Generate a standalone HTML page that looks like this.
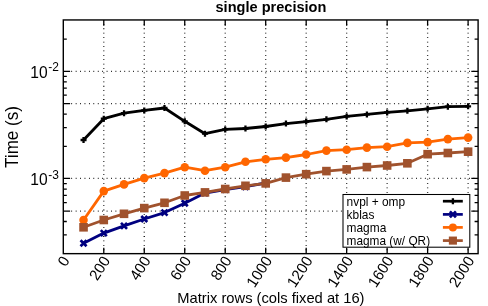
<!DOCTYPE html>
<html><head><meta charset="utf-8"><title>chart</title><style>html,body{margin:0;padding:0;background:#fff}body{width:488px;height:306px;overflow:hidden}svg{will-change:transform}svg text{font-family:"Liberation Sans",sans-serif}</style></head><body>
<svg width="488" height="306" viewBox="0 0 488 306" style="display:block">
<rect width="488" height="306" fill="#fff"/>
<line x1="103.78" y1="23.95" x2="103.78" y2="253.65" stroke="#000" stroke-width="1.3" stroke-dasharray="0.8 3.62" fill="none"/>
<line x1="144.26" y1="23.95" x2="144.26" y2="253.65" stroke="#000" stroke-width="1.3" stroke-dasharray="0.8 3.62" fill="none"/>
<line x1="184.74" y1="23.95" x2="184.74" y2="253.65" stroke="#000" stroke-width="1.3" stroke-dasharray="0.8 3.62" fill="none"/>
<line x1="225.22" y1="23.95" x2="225.22" y2="253.65" stroke="#000" stroke-width="1.3" stroke-dasharray="0.8 3.62" fill="none"/>
<line x1="265.70" y1="23.95" x2="265.70" y2="253.65" stroke="#000" stroke-width="1.3" stroke-dasharray="0.8 3.62" fill="none"/>
<line x1="306.18" y1="23.95" x2="306.18" y2="253.65" stroke="#000" stroke-width="1.3" stroke-dasharray="0.8 3.62" fill="none"/>
<line x1="346.66" y1="23.95" x2="346.66" y2="253.65" stroke="#000" stroke-width="1.3" stroke-dasharray="0.8 3.62" fill="none"/>
<line x1="387.14" y1="23.95" x2="387.14" y2="253.65" stroke="#000" stroke-width="1.3" stroke-dasharray="0.8 3.62" fill="none"/>
<line x1="427.62" y1="23.95" x2="427.62" y2="253.65" stroke="#000" stroke-width="1.3" stroke-dasharray="0.8 3.62" fill="none"/>
<line x1="468.10" y1="23.95" x2="468.10" y2="253.65" stroke="#000" stroke-width="1.3" stroke-dasharray="0.8 3.62" fill="none"/>
<line x1="71.30" y1="71.39" x2="478.10" y2="71.39" stroke="#000" stroke-width="1.3" stroke-dasharray="0.8 3.62" fill="none"/>
<line x1="71.30" y1="103.72" x2="478.10" y2="103.72" stroke="#000" stroke-width="1.3" stroke-dasharray="0.8 3.62" fill="none"/>
<line x1="71.30" y1="178.40" x2="478.10" y2="178.40" stroke="#000" stroke-width="1.3" stroke-dasharray="0.8 3.62" fill="none"/>
<line x1="71.30" y1="211.11" x2="478.10" y2="211.11" stroke="#000" stroke-width="1.3" stroke-dasharray="0.8 3.62" fill="none"/>
<polyline points="83.54,140.00 103.78,118.70 124.02,113.20 144.26,110.40 164.50,108.00 184.74,121.30 204.98,133.70 225.22,129.40 245.46,128.50 265.70,126.50 285.94,123.60 306.18,121.60 326.42,119.30 346.66,116.40 366.90,114.40 387.14,112.40 407.38,110.80 427.62,108.80 447.86,106.70 468.10,106.30" fill="none" stroke="#000" stroke-width="2.8" stroke-linejoin="round"/>
<path d="M80.54 140.00H86.54M83.54 137.00V143.00" stroke="#000" stroke-width="2.3" fill="none"/>
<path d="M100.78 118.70H106.78M103.78 115.70V121.70" stroke="#000" stroke-width="2.3" fill="none"/>
<path d="M121.02 113.20H127.02M124.02 110.20V116.20" stroke="#000" stroke-width="2.3" fill="none"/>
<path d="M141.26 110.40H147.26M144.26 107.40V113.40" stroke="#000" stroke-width="2.3" fill="none"/>
<path d="M161.50 108.00H167.50M164.50 105.00V111.00" stroke="#000" stroke-width="2.3" fill="none"/>
<path d="M181.74 121.30H187.74M184.74 118.30V124.30" stroke="#000" stroke-width="2.3" fill="none"/>
<path d="M201.98 133.70H207.98M204.98 130.70V136.70" stroke="#000" stroke-width="2.3" fill="none"/>
<path d="M222.22 129.40H228.22M225.22 126.40V132.40" stroke="#000" stroke-width="2.3" fill="none"/>
<path d="M242.46 128.50H248.46M245.46 125.50V131.50" stroke="#000" stroke-width="2.3" fill="none"/>
<path d="M262.70 126.50H268.70M265.70 123.50V129.50" stroke="#000" stroke-width="2.3" fill="none"/>
<path d="M282.94 123.60H288.94M285.94 120.60V126.60" stroke="#000" stroke-width="2.3" fill="none"/>
<path d="M303.18 121.60H309.18M306.18 118.60V124.60" stroke="#000" stroke-width="2.3" fill="none"/>
<path d="M323.42 119.30H329.42M326.42 116.30V122.30" stroke="#000" stroke-width="2.3" fill="none"/>
<path d="M343.66 116.40H349.66M346.66 113.40V119.40" stroke="#000" stroke-width="2.3" fill="none"/>
<path d="M363.90 114.40H369.90M366.90 111.40V117.40" stroke="#000" stroke-width="2.3" fill="none"/>
<path d="M384.14 112.40H390.14M387.14 109.40V115.40" stroke="#000" stroke-width="2.3" fill="none"/>
<path d="M404.38 110.80H410.38M407.38 107.80V113.80" stroke="#000" stroke-width="2.3" fill="none"/>
<path d="M424.62 108.80H430.62M427.62 105.80V111.80" stroke="#000" stroke-width="2.3" fill="none"/>
<path d="M444.86 106.70H450.86M447.86 103.70V109.70" stroke="#000" stroke-width="2.3" fill="none"/>
<path d="M465.10 106.30H471.10M468.10 103.30V109.30" stroke="#000" stroke-width="2.3" fill="none"/>
<polyline points="83.54,243.20 103.78,233.10 124.02,225.90 144.26,219.00 164.50,212.60 184.74,203.20 204.98,193.00 225.22,189.60 245.46,186.70 265.70,183.00" fill="none" stroke="#000080" stroke-width="2.8" stroke-linejoin="round"/>
<path d="M80.54 240.20L86.54 246.20M80.54 246.20L86.54 240.20" stroke="#000080" stroke-width="2.7" fill="none"/>
<path d="M100.78 230.10L106.78 236.10M100.78 236.10L106.78 230.10" stroke="#000080" stroke-width="2.7" fill="none"/>
<path d="M121.02 222.90L127.02 228.90M121.02 228.90L127.02 222.90" stroke="#000080" stroke-width="2.7" fill="none"/>
<path d="M141.26 216.00L147.26 222.00M141.26 222.00L147.26 216.00" stroke="#000080" stroke-width="2.7" fill="none"/>
<path d="M161.50 209.60L167.50 215.60M161.50 215.60L167.50 209.60" stroke="#000080" stroke-width="2.7" fill="none"/>
<path d="M181.74 200.20L187.74 206.20M181.74 206.20L187.74 200.20" stroke="#000080" stroke-width="2.7" fill="none"/>
<path d="M201.98 190.00L207.98 196.00M201.98 196.00L207.98 190.00" stroke="#000080" stroke-width="2.7" fill="none"/>
<path d="M222.22 186.60L228.22 192.60M222.22 192.60L228.22 186.60" stroke="#000080" stroke-width="2.7" fill="none"/>
<path d="M242.46 183.70L248.46 189.70M242.46 189.70L248.46 183.70" stroke="#000080" stroke-width="2.7" fill="none"/>
<path d="M262.70 180.00L268.70 186.00M262.70 186.00L268.70 180.00" stroke="#000080" stroke-width="2.7" fill="none"/>
<polyline points="83.54,220.00 103.78,191.10 124.02,184.40 144.26,178.10 164.50,173.10 184.74,167.20 204.98,170.70 225.22,167.20 245.46,161.80 265.70,159.30 285.94,157.60 306.18,154.50 326.42,150.60 346.66,149.70 366.90,147.60 387.14,146.70 407.38,142.90 427.62,142.10 447.86,139.10 468.10,137.60" fill="none" stroke="#ff6600" stroke-width="2.8" stroke-linejoin="round"/>
<circle cx="83.54" cy="220.00" r="4.3" fill="#ff6600"/>
<circle cx="103.78" cy="191.10" r="4.3" fill="#ff6600"/>
<circle cx="124.02" cy="184.40" r="4.3" fill="#ff6600"/>
<circle cx="144.26" cy="178.10" r="4.3" fill="#ff6600"/>
<circle cx="164.50" cy="173.10" r="4.3" fill="#ff6600"/>
<circle cx="184.74" cy="167.20" r="4.3" fill="#ff6600"/>
<circle cx="204.98" cy="170.70" r="4.3" fill="#ff6600"/>
<circle cx="225.22" cy="167.20" r="4.3" fill="#ff6600"/>
<circle cx="245.46" cy="161.80" r="4.3" fill="#ff6600"/>
<circle cx="265.70" cy="159.30" r="4.3" fill="#ff6600"/>
<circle cx="285.94" cy="157.60" r="4.3" fill="#ff6600"/>
<circle cx="306.18" cy="154.50" r="4.3" fill="#ff6600"/>
<circle cx="326.42" cy="150.60" r="4.3" fill="#ff6600"/>
<circle cx="346.66" cy="149.70" r="4.3" fill="#ff6600"/>
<circle cx="366.90" cy="147.60" r="4.3" fill="#ff6600"/>
<circle cx="387.14" cy="146.70" r="4.3" fill="#ff6600"/>
<circle cx="407.38" cy="142.90" r="4.3" fill="#ff6600"/>
<circle cx="427.62" cy="142.10" r="4.3" fill="#ff6600"/>
<circle cx="447.86" cy="139.10" r="4.3" fill="#ff6600"/>
<circle cx="468.10" cy="137.60" r="4.3" fill="#ff6600"/>
<polyline points="83.54,227.30 103.78,220.00 124.02,213.80 144.26,208.10 164.50,202.80 184.74,195.50 204.98,192.40 225.22,189.00 245.46,185.80 265.70,183.40 285.94,177.60 306.18,174.20 326.42,171.10 346.66,169.40 366.90,167.10 387.14,165.50 407.38,163.30 427.62,154.20 447.86,153.00 468.10,151.70" fill="none" stroke="#a0522d" stroke-width="2.8" stroke-linejoin="round"/>
<rect x="79.24" y="223.00" width="8.6" height="8.6" fill="#a0522d"/>
<rect x="99.48" y="215.70" width="8.6" height="8.6" fill="#a0522d"/>
<rect x="119.72" y="209.50" width="8.6" height="8.6" fill="#a0522d"/>
<rect x="139.96" y="203.80" width="8.6" height="8.6" fill="#a0522d"/>
<rect x="160.20" y="198.50" width="8.6" height="8.6" fill="#a0522d"/>
<rect x="180.44" y="191.20" width="8.6" height="8.6" fill="#a0522d"/>
<rect x="200.68" y="188.10" width="8.6" height="8.6" fill="#a0522d"/>
<rect x="220.92" y="184.70" width="8.6" height="8.6" fill="#a0522d"/>
<rect x="241.16" y="181.50" width="8.6" height="8.6" fill="#a0522d"/>
<rect x="261.40" y="179.10" width="8.6" height="8.6" fill="#a0522d"/>
<rect x="281.64" y="173.30" width="8.6" height="8.6" fill="#a0522d"/>
<rect x="301.88" y="169.90" width="8.6" height="8.6" fill="#a0522d"/>
<rect x="322.12" y="166.80" width="8.6" height="8.6" fill="#a0522d"/>
<rect x="342.36" y="165.10" width="8.6" height="8.6" fill="#a0522d"/>
<rect x="362.60" y="162.80" width="8.6" height="8.6" fill="#a0522d"/>
<rect x="382.84" y="161.20" width="8.6" height="8.6" fill="#a0522d"/>
<rect x="403.08" y="159.00" width="8.6" height="8.6" fill="#a0522d"/>
<rect x="423.32" y="149.90" width="8.6" height="8.6" fill="#a0522d"/>
<rect x="443.56" y="148.70" width="8.6" height="8.6" fill="#a0522d"/>
<rect x="463.80" y="147.40" width="8.6" height="8.6" fill="#a0522d"/>
<rect x="343.0" y="194.5" width="126.80" height="52.70" fill="#fff" stroke="#000" stroke-width="1.05"/>
<text transform="translate(346.60,205.60)" text-anchor="start" font-family="Liberation Sans, sans-serif" font-size="11.9" fill="#000">nvpl + omp</text>
<line x1="442.9" y1="201.2" x2="462.8" y2="201.2" stroke="#000" stroke-width="2.7"/>
<path d="M449.90 201.20H455.90M452.90 198.20V204.20" stroke="#000" stroke-width="2.3" fill="none"/>
<text transform="translate(346.60,218.60)" text-anchor="start" font-family="Liberation Sans, sans-serif" font-size="11.9" fill="#000">kblas</text>
<line x1="442.9" y1="214.4" x2="462.8" y2="214.4" stroke="#000080" stroke-width="2.7"/>
<path d="M449.90 211.40L455.90 217.40M449.90 217.40L455.90 211.40" stroke="#000080" stroke-width="2.7" fill="none"/>
<text transform="translate(346.60,231.60)" text-anchor="start" font-family="Liberation Sans, sans-serif" font-size="11.9" fill="#000">magma</text>
<line x1="442.9" y1="227.4" x2="462.8" y2="227.4" stroke="#ff6600" stroke-width="2.7"/>
<circle cx="452.90" cy="227.40" r="4.0" fill="#ff6600"/>
<text transform="translate(346.60,244.60) scale(0.995,1)" text-anchor="start" font-family="Liberation Sans, sans-serif" font-size="11.9" fill="#000">magma (w/ QR)</text>
<line x1="442.9" y1="240.6" x2="462.8" y2="240.6" stroke="#a0522d" stroke-width="2.7"/>
<rect x="448.85" y="236.55" width="8.1" height="8.1" fill="#a0522d"/>
<rect x="63.3" y="19.95" width="414.80" height="233.70" stroke="#000" stroke-width="1.4" fill="none"/>
<path d="M103.78 19.95v5.8M103.78 253.65v-5.8" stroke="#000" stroke-width="1.3" fill="none"/>
<path d="M144.26 19.95v5.8M144.26 253.65v-5.8" stroke="#000" stroke-width="1.3" fill="none"/>
<path d="M184.74 19.95v5.8M184.74 253.65v-5.8" stroke="#000" stroke-width="1.3" fill="none"/>
<path d="M225.22 19.95v5.8M225.22 253.65v-5.8" stroke="#000" stroke-width="1.3" fill="none"/>
<path d="M265.70 19.95v5.8M265.70 253.65v-5.8" stroke="#000" stroke-width="1.3" fill="none"/>
<path d="M306.18 19.95v5.8M306.18 253.65v-5.8" stroke="#000" stroke-width="1.3" fill="none"/>
<path d="M346.66 19.95v5.8M346.66 253.65v-5.8" stroke="#000" stroke-width="1.3" fill="none"/>
<path d="M387.14 19.95v5.8M387.14 253.65v-5.8" stroke="#000" stroke-width="1.3" fill="none"/>
<path d="M427.62 19.95v5.8M427.62 253.65v-5.8" stroke="#000" stroke-width="1.3" fill="none"/>
<path d="M468.10 19.95v5.8M468.10 253.65v-5.8" stroke="#000" stroke-width="1.3" fill="none"/>
<path d="M63.3 71.39h6.8M478.1 71.39h-6.8" stroke="#000" stroke-width="1.3" fill="none"/>
<path d="M63.3 103.72h6.8M478.1 103.72h-6.8" stroke="#000" stroke-width="1.3" fill="none"/>
<path d="M63.3 178.40h6.8M478.1 178.40h-6.8" stroke="#000" stroke-width="1.3" fill="none"/>
<path d="M63.3 211.11h6.8M478.1 211.11h-6.8" stroke="#000" stroke-width="1.3" fill="none"/>
<path d="M63.3 39.06h3.5M478.1 39.06h-3.5" stroke="#000" stroke-width="1.3" fill="none"/>
<path d="M63.3 76.30h3.5M478.1 76.30h-3.5" stroke="#000" stroke-width="1.3" fill="none"/>
<path d="M63.3 81.80h3.5M478.1 81.80h-3.5" stroke="#000" stroke-width="1.3" fill="none"/>
<path d="M63.3 88.03h3.5M478.1 88.03h-3.5" stroke="#000" stroke-width="1.3" fill="none"/>
<path d="M63.3 95.22h3.5M478.1 95.22h-3.5" stroke="#000" stroke-width="1.3" fill="none"/>
<path d="M63.3 114.13h3.5M478.1 114.13h-3.5" stroke="#000" stroke-width="1.3" fill="none"/>
<path d="M63.3 127.54h3.5M478.1 127.54h-3.5" stroke="#000" stroke-width="1.3" fill="none"/>
<path d="M63.3 146.46h3.5M478.1 146.46h-3.5" stroke="#000" stroke-width="1.3" fill="none"/>
<path d="M63.3 183.70h3.5M478.1 183.70h-3.5" stroke="#000" stroke-width="1.3" fill="none"/>
<path d="M63.3 189.19h3.5M478.1 189.19h-3.5" stroke="#000" stroke-width="1.3" fill="none"/>
<path d="M63.3 195.42h3.5M478.1 195.42h-3.5" stroke="#000" stroke-width="1.3" fill="none"/>
<path d="M63.3 202.61h3.5M478.1 202.61h-3.5" stroke="#000" stroke-width="1.3" fill="none"/>
<path d="M63.3 221.52h3.5M478.1 221.52h-3.5" stroke="#000" stroke-width="1.3" fill="none"/>
<path d="M63.3 234.94h3.5M478.1 234.94h-3.5" stroke="#000" stroke-width="1.3" fill="none"/>
<text transform="translate(47.70,77.59) scale(0.98,1)" text-anchor="end" font-family="Liberation Sans, sans-serif" font-size="15.9" fill="#000">10</text>
<text transform="translate(48.30,71.49) scale(0.92,1)" text-anchor="start" font-family="Liberation Sans, sans-serif" font-size="13" fill="#000">-2</text>
<text transform="translate(47.70,184.60) scale(0.98,1)" text-anchor="end" font-family="Liberation Sans, sans-serif" font-size="15.9" fill="#000">10</text>
<text transform="translate(48.30,178.50) scale(0.92,1)" text-anchor="start" font-family="Liberation Sans, sans-serif" font-size="13" fill="#000">-3</text>
<text transform="translate(70.30,260.55) rotate(-57) scale(0.97,1)" text-anchor="end" font-family="Liberation Sans, sans-serif" font-size="15.4" fill="#000">0</text>
<text transform="translate(110.78,260.55) rotate(-57) scale(0.97,1)" text-anchor="end" font-family="Liberation Sans, sans-serif" font-size="15.4" fill="#000">200</text>
<text transform="translate(151.26,260.55) rotate(-57) scale(0.97,1)" text-anchor="end" font-family="Liberation Sans, sans-serif" font-size="15.4" fill="#000">400</text>
<text transform="translate(191.74,260.55) rotate(-57) scale(0.97,1)" text-anchor="end" font-family="Liberation Sans, sans-serif" font-size="15.4" fill="#000">600</text>
<text transform="translate(232.22,260.55) rotate(-57) scale(0.97,1)" text-anchor="end" font-family="Liberation Sans, sans-serif" font-size="15.4" fill="#000">800</text>
<text transform="translate(272.70,260.55) rotate(-57) scale(0.97,1)" text-anchor="end" font-family="Liberation Sans, sans-serif" font-size="15.4" fill="#000">1000</text>
<text transform="translate(313.18,260.55) rotate(-57) scale(0.97,1)" text-anchor="end" font-family="Liberation Sans, sans-serif" font-size="15.4" fill="#000">1200</text>
<text transform="translate(353.66,260.55) rotate(-57) scale(0.97,1)" text-anchor="end" font-family="Liberation Sans, sans-serif" font-size="15.4" fill="#000">1400</text>
<text transform="translate(394.14,260.55) rotate(-57) scale(0.97,1)" text-anchor="end" font-family="Liberation Sans, sans-serif" font-size="15.4" fill="#000">1600</text>
<text transform="translate(434.62,260.55) rotate(-57) scale(0.97,1)" text-anchor="end" font-family="Liberation Sans, sans-serif" font-size="15.4" fill="#000">1800</text>
<text transform="translate(475.10,260.55) rotate(-57) scale(0.97,1)" text-anchor="end" font-family="Liberation Sans, sans-serif" font-size="15.4" fill="#000">2000</text>
<text transform="translate(270.95,11.90) scale(1.035,1)" text-anchor="middle" font-family="Liberation Sans, sans-serif" font-size="14.1" font-weight="bold" fill="#000">single precision</text>
<text transform="translate(270.90,302.60) scale(1.03,1)" text-anchor="middle" font-family="Liberation Sans, sans-serif" font-size="14.3" fill="#000">Matrix rows (cols fixed at 16)</text>
<text transform="translate(18.00,137.00) rotate(-90) scale(0.958,1)" text-anchor="middle" font-family="Liberation Sans, sans-serif" font-size="17.8" fill="#000">Time (s)</text>
</svg>
</body></html>
